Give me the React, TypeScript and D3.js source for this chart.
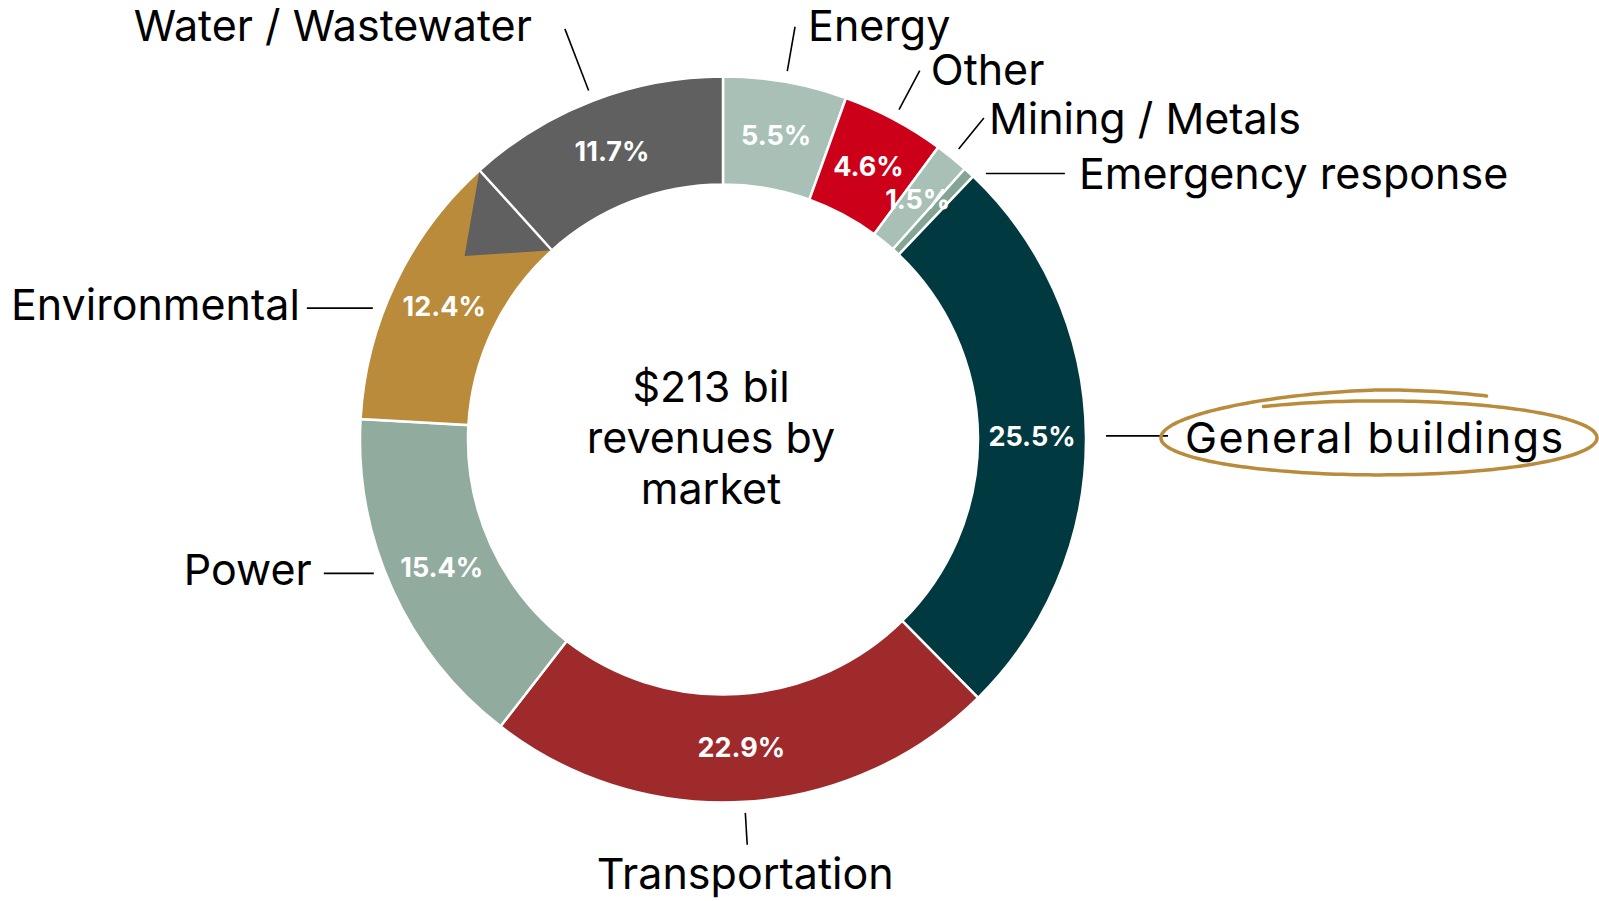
import React from "react";
import * as d3 from "d3";

// market shares, clockwise from 12 o'clock
const markets = [
  "Energy",
  "Other",
  "Mining / Metals",
  "Emergency response",
  "General buildings",
  "Transportation",
  "Power",
  "Environmental",
  "Water / Wastewater",
];
const shares = [5.5, 4.6, 1.5, 0.5, 25.5, 22.9, 15.4, 12.4, 11.7];
const shareLabels = ["5.5%", "4.6%", "1.5%", "", "25.5%", "22.9%", "15.4%", "12.4%", "11.7%"];
const centerLines = ["$213 bil", "revenues by", "market"];
const highlighted = "General buildings";

const colors = [
  "#a9c0b7",
  "#cc0019",
  "#a9c0b7",
  "#84a595",
  "#003a40",
  "#9e2a2b",
  "#91ac9f",
  "#b98b3b",
  "#606060",
];

const W = 1599;
const H = 901;
const cx = 723;
const cy = 439.5;
const outerR = 363;
const innerR = 255;
const font = "Inter, 'Noto Sans', sans-serif";

type Leader = {
  mode: "radial" | "h";
  len: number;
  gap?: number;
  dAng?: number;
  dx: number;
  dy: number;
  anchor: "start" | "middle" | "end";
  spacing?: number;
};

// leader line and label placement per market
const leaders: Record<string, Leader> = {
  "Energy": { mode: "radial", len: 45, dx: 13, dy: -2, anchor: "start" },
  "Other": { mode: "radial", len: 44, dx: 11, dy: -2, anchor: "start" },
  "Mining / Metals": { mode: "radial", len: 40, dx: 5, dy: 0, anchor: "start" },
  "Emergency response": { mode: "h", len: 79, dAng: 2, dx: 14, dy: 0, anchor: "start" },
  "General buildings": { mode: "h", len: 62, gap: 20, dx: 17, dy: 1, anchor: "start", spacing: 1.5 },
  "Transportation": { mode: "radial", len: 32, dx: -2, dy: 28, anchor: "middle" },
  "Power": { mode: "h", len: -50, dAng: 3.5, dx: -12, dy: -4, anchor: "end" },
  "Environmental": { mode: "h", len: -66, dAng: -5, dx: -7, dy: -4, anchor: "end" },
  "Water / Wastewater": { mode: "radial", len: 66, dx: -33, dy: -4, anchor: "end" },
};

const polar = (ang: number, rad: number): [number, number] => [
  cx + rad * Math.sin(ang),
  cy - rad * Math.cos(ang),
];

export default function App() {
  const pie = d3
    .pie<number>()
    .value((d) => d)
    .sort(null);
  const arcs = pie(shares);
  const arc = d3
    .arc<d3.PieArcDatum<number>>()
    .innerRadius(innerR)
    .outerRadius(outerR);

  // the odd grey wedge poking into Environmental, taken from the Water slice edge
  const water = arcs[8];
  const env = arcs[7];
  const tipAng = env.endAngle - (env.endAngle - env.startAngle) * 0.28;
  const wedge = d3.line()([
    polar(water.startAngle, outerR),
    polar(tipAng, (outerR + innerR) / 2 + 8),
    polar(water.startAngle, innerR),
  ]) + "Z";

  // hand drawn ring around the highlighted label
  const ringPath = (x0: number, y0: number) => {
    const ecx = x0 + 194;
    const ecy = y0 + 1;
    const pts: [number, number][] = [];
    const a0 = (-122 * Math.PI) / 180;
    const a1 = (300 * Math.PI) / 180;
    for (let a = a0; a <= a1; a += 0.03) {
      const deg = (a * 180) / Math.PI;
      const k = deg < 180 ? 0 : Math.min(1, (deg - 180) / 90);
      const ry = 37 + k * 11;
      const rx = 218 + k * 3;
      pts.push([ecx + rx * Math.cos(a), ecy + ry * Math.sin(a)]);
    }
    return d3.line().curve(d3.curveCatmullRom)(pts) || "";
  };

  return (
    <svg
      width={W}
      height={H}
      style={{ position: "absolute", left: 0, top: 0, background: "#fff" }}
      fontFamily={font}
    >
      {arcs.map((a, i) => (
        <g key={markets[i]}>
          {i === 8 && <path d={wedge} fill={colors[8]} />}
          <path
            transform={`translate(${cx},${cy})`}
            d={arc(a) || ""}
            fill={colors[i]}
            stroke="#fff"
            strokeWidth={2.5}
          />
        </g>
      ))}

      <g transform={`translate(${cx},${cy})`}>
        {arcs.map((a, i) => {
          const [x, y] = arc.centroid(a);
          return (
            <text
              key={"p" + i}
              x={x}
              y={y}
              textAnchor="middle"
              dominantBaseline="central"
              fill="#fff"
              fontWeight={700}
              fontSize={27}
            >
              {shareLabels[i]}
            </text>
          );
        })}
      </g>

      {arcs.map((a, i) => {
        const name = markets[i];
        const L = leaders[name];
        const mid = (a.startAngle + a.endAngle) / 2 + ((L.dAng || 0) * Math.PI) / 180;
        const r1 = outerR + (L.gap ?? 11);
        const p0 = polar(mid, r1);
        const p1: [number, number] =
          L.mode === "radial" ? polar(mid, r1 + L.len) : [p0[0] + L.len, p0[1]];
        const tx = p1[0] + L.dx;
        const ty = p1[1] + L.dy;
        return (
          <g key={"l" + i}>
            <line x1={p0[0]} y1={p0[1]} x2={p1[0]} y2={p1[1]} stroke="#000" strokeWidth={1.6} />
            {name === highlighted && (
              <path d={ringPath(tx, ty)} fill="none" stroke="#b98b3b" strokeWidth={3.5} strokeLinecap="round" />
            )}
            <text
              x={tx}
              y={ty}
              textAnchor={L.anchor}
              dominantBaseline="central"
              fontSize={43}
              letterSpacing={L.spacing || 0}
              fill="#000"
            >
              {name}
            </text>
          </g>
        );
      })}

      {centerLines.map((t, i) => (
        <text
          key={t}
          x={cx - 12}
          y={cy - 54 + i * 51}
          textAnchor="middle"
          dominantBaseline="central"
          fontSize={43}
          fill="#000"
        >
          {t}
        </text>
      ))}
    </svg>
  );
}
